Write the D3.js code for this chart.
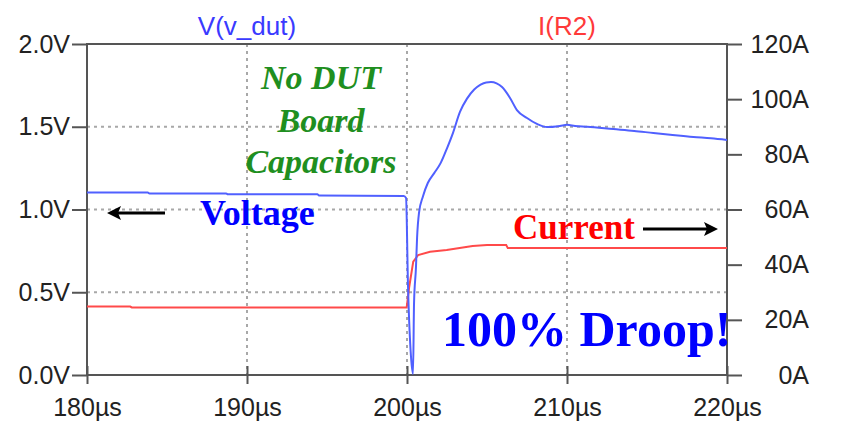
<!DOCTYPE html>
<html><head><meta charset="utf-8">
<script src="https://cdn.jsdelivr.net/npm/d3@7/dist/d3.min.js"></script>
<style>
html,body{margin:0;padding:0;background:#fff;}
svg{display:block;}
</style></head>
<body><svg id="c" width="846" height="447"></svg>
<script>
// ---- data ----
const xTicks = [180, 190, 200, 210, 220];
const vTicks = [0, 0.5, 1.0, 1.5, 2.0];
const iTicks = [0, 20, 40, 60, 80, 100, 120];

const voltTime = [180, 183.8, 183.9, 188.7, 188.8, 194.4, 194.5, 199.8, 199.94, 200.06, 200.25, 200.375, 200.44, 200.56, 200.63, 200.75, 201.0, 201.3, 201.7, 202.1, 202.5, 202.87, 203.31, 203.75, 204.2, 204.6, 204.95, 205.25, 205.6, 205.94, 206.44, 206.87, 207.5, 208.12, 208.75, 209.56, 210.0, 210.5, 211.25, 212.9, 214.2, 215.4, 216.6, 217.9, 219.0, 220];
const voltValue = [1.103, 1.103, 1.097, 1.097, 1.092, 1.092, 1.085, 1.082, 1.07, 0.55, 0.11, 0.006, 0.435, 0.65, 0.83, 0.98, 1.08, 1.16, 1.22, 1.28, 1.37, 1.462, 1.59, 1.67, 1.725, 1.755, 1.768, 1.77, 1.762, 1.74, 1.674, 1.601, 1.553, 1.517, 1.498, 1.505, 1.512, 1.505, 1.50, 1.486, 1.475, 1.462, 1.45, 1.438, 1.43, 1.42];

const currTime = [180, 182.7, 182.8, 199.98, 200.14, 200.39, 200.7, 201.44, 202.48, 204.1, 205.0, 206.2, 206.3, 220];
const currValue = [24.8, 24.8, 24.5, 24.5, 32.0, 41.1, 43.5, 44.7, 45.3, 46.8, 47.1, 47.1, 46.0, 46.0];

const leftTitle = "V(v_dut)";
const rightTitle = "I(R2)";
const noteLines = ["No DUT", "Board", "Capacitors"];

// ---- layout ----
const L = 87, R = 727, T = 44, B = 375;
const svg = d3.select("#c");
const x = d3.scaleLinear().domain([180, 220]).range([L, R]);
const yV = d3.scaleLinear().domain([0, 2]).range([B, T]);
const yI = d3.scaleLinear().domain([0, 120]).range([B, T]);
const axisFont = "'Liberation Sans', Arial, sans-serif";
const axisColor = "#555";

// grid
const grid = svg.append("g").attr("stroke", "#a8a8a8").attr("stroke-width", 2).attr("stroke-dasharray", "3,4");
xTicks.filter(d => d > 180 && d < 220).forEach(d => {
  grid.append("line").attr("x1", x(d)).attr("x2", x(d)).attr("y1", T).attr("y2", B);
});
vTicks.filter(d => d > 0 && d < 2).forEach(d => {
  grid.append("line").attr("x1", L).attr("x2", R).attr("y1", yV(d)).attr("y2", yV(d));
});

// frame
svg.append("rect").attr("x", L).attr("y", T).attr("width", R - L).attr("height", B - T)
  .attr("fill", "none").attr("stroke", axisColor).attr("stroke-width", 2);

// left axis
const gl = svg.append("g").attr("transform", `translate(${L},0)`)
  .call(d3.axisLeft(yV).tickValues(vTicks).tickSize(15).tickPadding(2).tickFormat(d => d.toFixed(1) + "V"));
// right axis
const gr = svg.append("g").attr("transform", `translate(${R},0)`)
  .call(d3.axisRight(yI).tickValues(iTicks).tickSize(15).tickPadding(2).tickFormat(d => d + "A"));
// bottom axis
const gb = svg.append("g").attr("transform", `translate(0,${B})`)
  .call(d3.axisBottom(x).tickValues(xTicks).tickSize(9).tickPadding(14).tickFormat(d => d + "µs"));

[gl, gr, gb].forEach(g => {
  g.select(".domain").remove();
  g.selectAll(".tick line").attr("stroke", axisColor).attr("stroke-width", 2);
  g.selectAll(".tick text").attr("fill", "#222").style("font-family", axisFont).style("font-size", "25px");
});
gb.selectAll(".tick line").attr("y1", -9);
gr.selectAll(".tick text").attr("text-anchor", "end").attr("x", 82);

// lines
const vLine = d3.line().x((d, i) => x(voltTime[i])).y(d => yV(d)).curve(d3.curveMonotoneX);
const iLine = d3.line().x((d, i) => x(currTime[i])).y(d => yI(d));
svg.append("path").datum(currValue).attr("d", iLine).attr("fill", "none")
  .attr("stroke", "#ff4a4a").attr("stroke-width", 2);
svg.append("path").datum(voltValue).attr("d", vLine).attr("fill", "none")
  .attr("stroke", "#5060ff").attr("stroke-width", 2);

// titles
svg.append("text").attr("x", x(190)).attr("y", 35).attr("text-anchor", "middle")
  .attr("fill", "#3a3aff").style("font-family", axisFont).style("font-size", "26px").text(leftTitle);
svg.append("text").attr("x", x(210)).attr("y", 35).attr("text-anchor", "middle")
  .attr("fill", "#ff3a3a").style("font-family", axisFont).style("font-size", "26px").text(rightTitle);

// annotations
const serif = "'Liberation Serif', 'Times New Roman', serif";
const note = svg.append("text").attr("text-anchor", "middle").attr("fill", "#1f8f1f")
  .style("font-family", serif).style("font-size", "34px").style("font-weight", "bold").style("font-style", "italic");
[89, 132, 173].forEach((yy, i) => note.append("tspan").attr("x", 321).attr("y", yy).text(noteLines[i]));

svg.append("text").attr("x", 200).attr("y", 225).attr("fill", "#0000ff")
  .style("font-family", serif).style("font-size", "36px").style("font-weight", "bold").text("Voltage");
svg.append("text").attr("x", 513).attr("y", 239).attr("fill", "#ff0000")
  .style("font-family", serif).style("font-size", "35px").style("font-weight", "bold").text("Current");
svg.append("text").attr("x", 442).attr("y", 346).attr("fill", "#0000ff")
  .style("font-family", serif).style("font-size", "50px").style("font-weight", "bold").text("100% Droop!");

// arrows
function arrow(x1, x2, yy) {
  const dir = Math.sign(x2 - x1);
  svg.append("line").attr("x1", x1).attr("x2", x2 - dir * 10).attr("y1", yy).attr("y2", yy)
    .attr("stroke", "#000").attr("stroke-width", 3);
  svg.append("path").attr("d", `M${x2},${yy} L${x2 - dir * 14},${yy - 7} L${x2 - dir * 11},${yy} L${x2 - dir * 14},${yy + 7} Z`)
    .attr("fill", "#000");
}
arrow(165, 107, 213);
arrow(643, 718, 229);
</script></body></html>
